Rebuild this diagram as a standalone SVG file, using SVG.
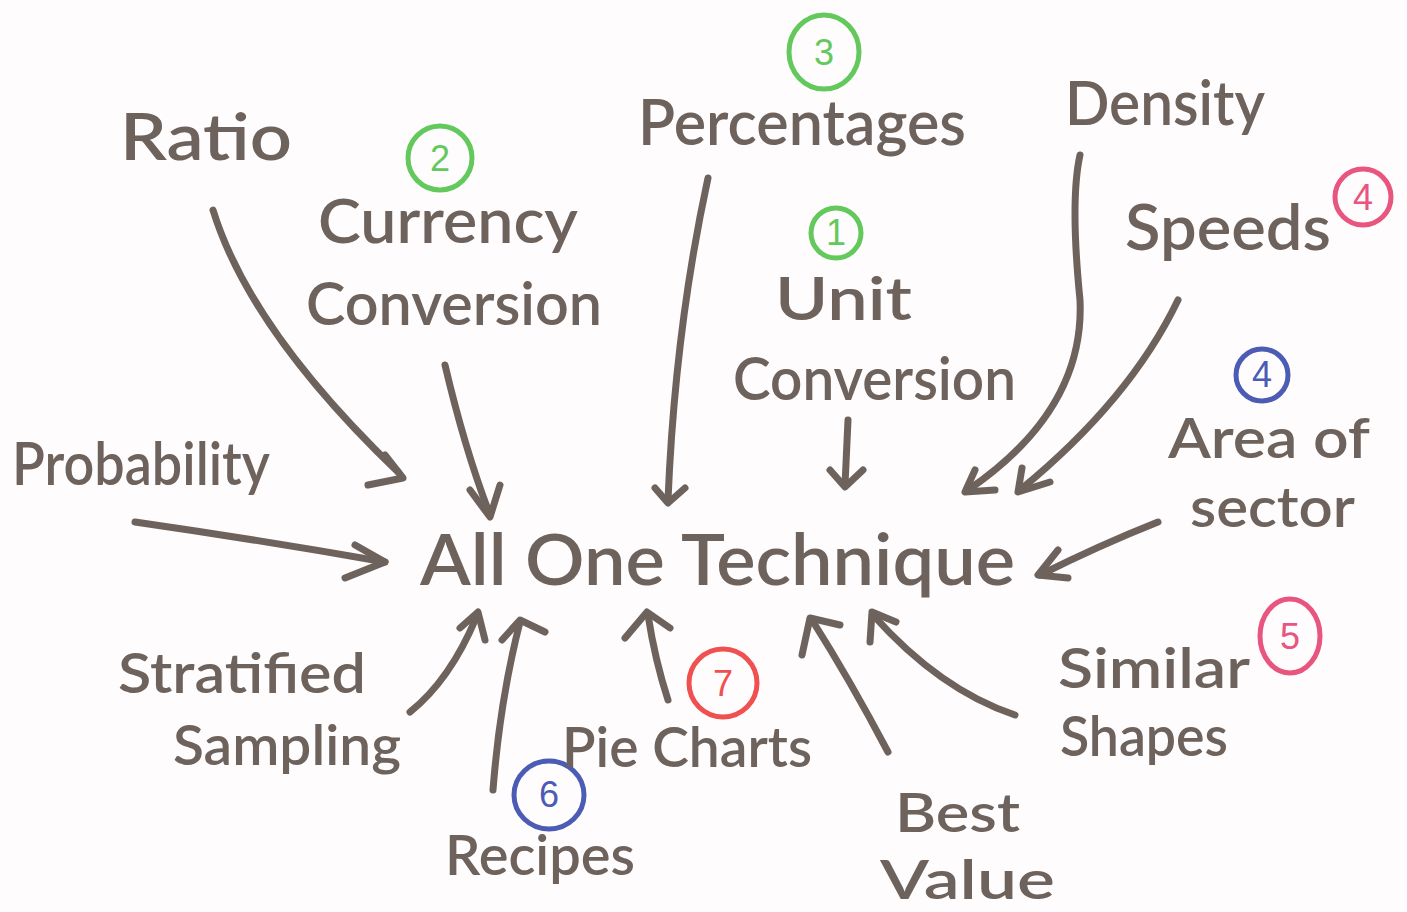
<svg xmlns="http://www.w3.org/2000/svg" width="1407" height="912" viewBox="0 0 1407 912">
<style>
.t{font-family:Lato,"Liberation Sans",sans-serif;fill:#6e625d;font-weight:600}
.c{fill:none;stroke-width:5}
.g{stroke:#63c95c}.gt{fill:#63c95c}
.r{stroke:#e8557f}.rt{fill:#e8557f}
.b{stroke:#4c5cb5}.bt{fill:#4c5cb5}
.rr{stroke:#f05050}.rrt{fill:#f05050}
.n{font-family:"Liberation Sans",sans-serif;font-size:36px;text-anchor:middle}
.a{fill:none;stroke:#6e625d;stroke-width:7;stroke-linecap:round;stroke-linejoin:round}
</style>
<rect width="1407" height="912" fill="#fefcfd"/>
<g id="connectors">
<path class="a" d="M213 210 Q250 330 398 472"/><path class="a" d="M368 485 L403 478 L385 455"/>
<path class="a" d="M445 365 Q465 450 490 515"/><path class="a" d="M470 490 L490 517 L500 485"/>
<path class="a" d="M708 178 Q675 330 668 500"/><path class="a" d="M655 488 L668 503 L685 488"/>
<path class="a" d="M848 420 L845 485"/><path class="a" d="M830 470 L845 487 L863 470"/>
<path class="a" d="M1080 155 Q1070 200 1080 300 Q1085 410 968 490"/><path class="a" d="M975 470 L965 492 L995 490"/>
<path class="a" d="M1178 300 Q1130 400 1020 490"/><path class="a" d="M1022 468 L1018 492 L1050 482"/>
<path class="a" d="M1158 522 Q1100 545 1040 575"/><path class="a" d="M1058 550 L1038 575 L1068 578"/>
<path class="a" d="M135 522 Q260 540 385 562"/><path class="a" d="M355 545 L385 562 L345 578"/>
<path class="a" d="M410 712 Q450 680 476 618"/><path class="a" d="M460 628 L478 612 L485 640"/>
<path class="a" d="M493 790 Q500 700 520 622"/><path class="a" d="M502 640 L520 620 L545 632"/>
<path class="a" d="M668 700 Q655 660 648 615"/><path class="a" d="M625 638 L647 612 L670 628"/>
<path class="a" d="M888 752 Q850 680 812 620"/><path class="a" d="M802 655 L810 618 L840 625"/>
<path class="a" d="M1015 715 Q940 690 873 615"/><path class="a" d="M870 642 L872 612 L896 622"/>
</g>
<g id="center"><text class="t" x="420" y="585" font-size="72" textLength="595" lengthAdjust="spacingAndGlyphs">All  One  Technique</text></g>
<g id="ratio"><text class="t" x="120" y="160" font-size="66" textLength="172" lengthAdjust="spacingAndGlyphs">Ratio</text></g>
<g id="currency"><text class="t" x="318" y="243" font-size="62" textLength="260" lengthAdjust="spacingAndGlyphs">Currency</text><text class="t" x="306" y="325" font-size="60" textLength="296" lengthAdjust="spacingAndGlyphs">Conversion</text>
<circle class="c g" cx="440" cy="158" r="32"/><text class="n gt" x="440" y="171">2</text></g>
<g id="percentages"><text class="t" x="638" y="145" font-size="64" textLength="328" lengthAdjust="spacingAndGlyphs">Percentages</text>
<ellipse class="c g" cx="824" cy="52" rx="35" ry="37"/><text class="n gt" x="824" y="65">3</text></g>
<g id="unit"><circle class="c g" cx="836" cy="233" r="25"/><text class="n gt" x="836" y="245" font-size="32">1</text>
<text class="t" x="775" y="320" font-size="60" textLength="137" lengthAdjust="spacingAndGlyphs">Unit</text><text class="t" x="733" y="400" font-size="60" textLength="283" lengthAdjust="spacingAndGlyphs">Conversion</text></g>
<g id="density"><text class="t" x="1065" y="125" font-size="62" textLength="200" lengthAdjust="spacingAndGlyphs">Density</text></g>
<g id="speeds"><text class="t" x="1125" y="250" font-size="64" textLength="206" lengthAdjust="spacingAndGlyphs">Speeds</text>
<circle class="c r" cx="1363" cy="197" r="28"/><text class="n rt" x="1363" y="210">4</text></g>
<g id="area"><circle class="c b" cx="1262" cy="375" r="26"/><text class="n bt" x="1262" y="387" font-size="32">4</text>
<text class="t" x="1168" y="458" font-size="56" textLength="202" lengthAdjust="spacingAndGlyphs">Area of</text><text class="t" x="1190" y="527" font-size="56" textLength="165" lengthAdjust="spacingAndGlyphs">sector</text></g>
<g id="probability"><text class="t" x="12" y="485" font-size="60" textLength="258" lengthAdjust="spacingAndGlyphs">Probability</text></g>
<g id="stratified"><text class="t" x="118" y="693" font-size="56" textLength="248" lengthAdjust="spacingAndGlyphs">Stratified</text><text class="t" x="173" y="765" font-size="56" textLength="228" lengthAdjust="spacingAndGlyphs">Sampling</text></g>
<g id="recipes"><ellipse class="c b" cx="549" cy="795" rx="35" ry="34"/><text class="n bt" x="549" y="807">6</text>
<text class="t" x="445" y="875" font-size="56" textLength="190" lengthAdjust="spacingAndGlyphs">Recipes</text></g>
<g id="piecharts"><ellipse class="c rr" cx="723" cy="683" rx="34" ry="34"/><text class="n rrt" x="723" y="696">7</text>
<text class="t" x="562" y="767" font-size="56" textLength="250" lengthAdjust="spacingAndGlyphs">Pie Charts</text></g>
<g id="bestvalue"><text class="t" x="895" y="832" font-size="54" textLength="125" lengthAdjust="spacingAndGlyphs">Best</text><text class="t" x="880" y="899" font-size="54" textLength="175" lengthAdjust="spacingAndGlyphs">Value</text></g>
<g id="similar"><text class="t" x="1058" y="688" font-size="56" textLength="192" lengthAdjust="spacingAndGlyphs">Similar</text><text class="t" x="1060" y="756" font-size="56" textLength="168" lengthAdjust="spacingAndGlyphs">Shapes</text>
<ellipse class="c r" cx="1290" cy="636" rx="30" ry="37"/><text class="n rt" x="1290" y="649">5</text></g>
</svg>
